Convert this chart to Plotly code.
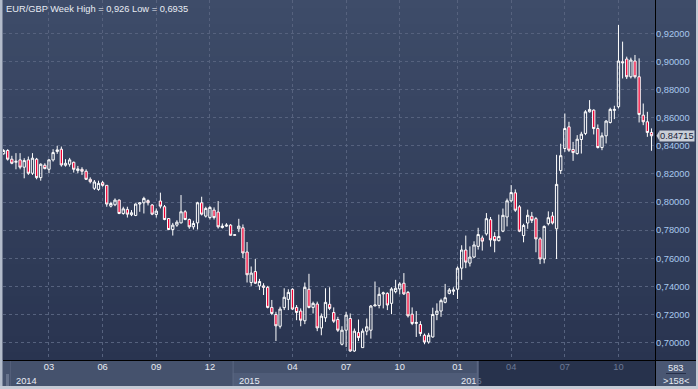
import plotly.graph_objects as go

# ---------------- data (weekly EUR/GBP bars) ----------------
opens = [0.8343, 0.8367, 0.8305, 0.8283, 0.8300, 0.8248, 0.8300, 0.8205, 0.8305, 0.8174,
         0.8262, 0.8233, 0.8300, 0.8360, 0.8376, 0.8262, 0.8269, 0.8283, 0.8224, 0.8233,
         0.8219, 0.8162, 0.8098, 0.8090, 0.8138, 0.8119, 0.7971, 0.7981, 0.8014, 0.7919,
         0.7948, 0.7910, 0.7905, 0.7986, 0.7995, 0.8010, 0.7979, 0.7912, 0.8007, 0.7967,
         0.7883, 0.7805, 0.7836, 0.7852, 0.7931, 0.7876, 0.7824, 0.7852, 0.7995, 0.7900,
         0.7890, 0.7943, 0.7929, 0.7819, 0.7829, 0.7836, 0.7764, 0.7810, 0.7817, 0.7645,
         0.7428, 0.7506, 0.7404, 0.7404, 0.7394, 0.7251, 0.7201, 0.7117, 0.7249, 0.7308,
         0.7380, 0.7251, 0.7225, 0.7156, 0.7380, 0.7251, 0.7275, 0.7105, 0.7177, 0.7273,
         0.7215, 0.7165, 0.6989, 0.7089, 0.7172, 0.6941, 0.7072, 0.6965, 0.7082, 0.7089,
         0.7261, 0.7265, 0.7347, 0.7351, 0.7280, 0.7363, 0.7382, 0.7423, 0.7358, 0.7203,
         0.7137, 0.7129, 0.7053, 0.7005, 0.7041, 0.7201, 0.7225, 0.7287, 0.7351, 0.7366,
         0.7380, 0.7530, 0.7659, 0.7566, 0.7609, 0.7685, 0.7745, 0.7774, 0.7875, 0.7755,
         0.7726, 0.7793, 0.7894, 0.8009, 0.8066, 0.7966, 0.7762, 0.7851, 0.7899, 0.7882,
         0.7738, 0.7595, 0.7846, 0.7901, 0.7810, 0.8224, 0.8381, 0.8535, 0.8374, 0.8345,
         0.8445, 0.8488, 0.8642, 0.8654, 0.8523, 0.8388, 0.8471, 0.8566, 0.8652, 0.8678,
         0.8998, 0.9017, 0.8891, 0.9003, 0.8891, 0.8618, 0.8571, 0.8495]
highs = [0.8376, 0.8376, 0.8329, 0.8348, 0.8348, 0.8312, 0.8324, 0.8348, 0.8314, 0.8276,
         0.8276, 0.8305, 0.8376, 0.8400, 0.8395, 0.8305, 0.8314, 0.8288, 0.8257, 0.8248,
         0.8233, 0.8176, 0.8157, 0.8152, 0.8150, 0.8121, 0.8002, 0.8026, 0.8019, 0.7967,
         0.7967, 0.7943, 0.7990, 0.8000, 0.8038, 0.8019, 0.7986, 0.7955, 0.8067, 0.7979,
         0.7886, 0.7852, 0.7871, 0.8050, 0.7943, 0.7883, 0.7867, 0.8002, 0.8038, 0.7967,
         0.7971, 0.7962, 0.8007, 0.7848, 0.7850, 0.7843, 0.7769, 0.7881, 0.7841, 0.7716,
         0.7542, 0.7595, 0.7454, 0.7423, 0.7404, 0.7304, 0.7220, 0.7256, 0.7387, 0.7380,
         0.7387, 0.7268, 0.7244, 0.7428, 0.7490, 0.7292, 0.7292, 0.7208, 0.7387, 0.7394,
         0.7251, 0.7184, 0.7117, 0.7220, 0.7208, 0.7101, 0.7165, 0.7101, 0.7172, 0.7268,
         0.7435, 0.7394, 0.7363, 0.7358, 0.7394, 0.7447, 0.7430, 0.7495, 0.7368, 0.7251,
         0.7225, 0.7153, 0.7065, 0.7070, 0.7249, 0.7280, 0.7313, 0.7418, 0.7389, 0.7394,
         0.7542, 0.7693, 0.7762, 0.7685, 0.7721, 0.7817, 0.7762, 0.7922, 0.7894, 0.7786,
         0.7911, 0.7954, 0.8025, 0.8121, 0.8090, 0.7978, 0.7846, 0.7946, 0.7930, 0.7894,
         0.7750, 0.7834, 0.7934, 0.7930, 0.8336, 0.8415, 0.8630, 0.8571, 0.8428, 0.8476,
         0.8500, 0.8654, 0.8725, 0.8659, 0.8552, 0.8495, 0.8583, 0.8671, 0.8685, 0.9259,
         0.9141, 0.9034, 0.9027, 0.9046, 0.9022, 0.8701, 0.8642, 0.8524]
lows = [0.8338, 0.8295, 0.8269, 0.8233, 0.8233, 0.8169, 0.8193, 0.8193, 0.8162, 0.8152,
        0.8233, 0.8205, 0.8288, 0.8343, 0.8252, 0.8252, 0.8252, 0.8210, 0.8205, 0.8193,
        0.8157, 0.8133, 0.8086, 0.8081, 0.8110, 0.7967, 0.7962, 0.7971, 0.7914, 0.7910,
        0.7890, 0.7900, 0.7900, 0.7931, 0.7919, 0.7976, 0.7907, 0.7890, 0.7955, 0.7871,
        0.7800, 0.7762, 0.7824, 0.7848, 0.7871, 0.7810, 0.7805, 0.7805, 0.7905, 0.7890,
        0.7876, 0.7876, 0.7812, 0.7812, 0.7824, 0.7762, 0.7762, 0.7786, 0.7602, 0.7428,
        0.7404, 0.7418, 0.7375, 0.7339, 0.7244, 0.7196, 0.7012, 0.7101, 0.7232, 0.7232,
        0.7232, 0.7160, 0.7117, 0.7132, 0.7244, 0.7208, 0.7082, 0.7053, 0.7148, 0.7232,
        0.7141, 0.7077, 0.6981, 0.6969, 0.6935, 0.6935, 0.7012, 0.6965, 0.7053, 0.7029,
        0.7261, 0.7244, 0.7244, 0.7232, 0.7203, 0.7351, 0.7344, 0.7339, 0.7179, 0.7125,
        0.7041, 0.7046, 0.6989, 0.6993, 0.7036, 0.7160, 0.7184, 0.7280, 0.7344, 0.7339,
        0.7311, 0.7447, 0.7530, 0.7542, 0.7602, 0.7662, 0.7655, 0.7762, 0.7683, 0.7643,
        0.7720, 0.7786, 0.7827, 0.7997, 0.7930, 0.7786, 0.7714, 0.7810, 0.7851, 0.7643,
        0.7559, 0.7564, 0.7834, 0.7841, 0.7595, 0.8200, 0.8357, 0.8357, 0.8293, 0.8338,
        0.8345, 0.8476, 0.8637, 0.8481, 0.8381, 0.8369, 0.8417, 0.8559, 0.8590, 0.8666,
        0.8879, 0.8875, 0.8879, 0.8879, 0.8566, 0.8547, 0.8464, 0.8365]
closes = [0.8367, 0.8305, 0.8276, 0.8290, 0.8248, 0.8295, 0.8205, 0.8312, 0.8174, 0.8269,
          0.8238, 0.8300, 0.8352, 0.8371, 0.8264, 0.8276, 0.8300, 0.8233, 0.8236, 0.8219,
          0.8162, 0.8145, 0.8143, 0.8133, 0.8119, 0.7986, 0.7990, 0.8014, 0.7919, 0.7952,
          0.7914, 0.7924, 0.7986, 0.7995, 0.8026, 0.7995, 0.7914, 0.7936, 0.7971, 0.7876,
          0.7805, 0.7836, 0.7857, 0.7931, 0.7876, 0.7824, 0.7848, 0.7995, 0.7914, 0.7955,
          0.7962, 0.7890, 0.7824, 0.7829, 0.7836, 0.7764, 0.7767, 0.7829, 0.7638, 0.7483,
          0.7495, 0.7423, 0.7435, 0.7394, 0.7251, 0.7208, 0.7120, 0.7239, 0.7323, 0.7358,
          0.7239, 0.7215, 0.7160, 0.7394, 0.7251, 0.7280, 0.7105, 0.7189, 0.7287, 0.7244,
          0.7153, 0.7089, 0.7089, 0.7196, 0.6941, 0.7082, 0.7036, 0.7082, 0.7113, 0.7261,
          0.7268, 0.7344, 0.7354, 0.7268, 0.7382, 0.7387, 0.7418, 0.7347, 0.7191, 0.7137,
          0.7144, 0.7065, 0.7005, 0.7053, 0.7201, 0.7225, 0.7299, 0.7320, 0.7375, 0.7375,
          0.7530, 0.7659, 0.7573, 0.7609, 0.7695, 0.7769, 0.7722, 0.7882, 0.7731, 0.7726,
          0.7755, 0.7906, 0.8009, 0.8068, 0.7942, 0.7793, 0.7834, 0.7906, 0.7870, 0.7738,
          0.7595, 0.7827, 0.7889, 0.7851, 0.8126, 0.8330, 0.8523, 0.8369, 0.8352, 0.8447,
          0.8483, 0.8642, 0.8659, 0.8523, 0.8388, 0.8471, 0.8576, 0.8659, 0.8659, 0.9003,
          0.8991, 0.8891, 0.9010, 0.8891, 0.8623, 0.8571, 0.8495, 0.84715]

month_tick_bars = [11, 24, 37, 50, 70, 83, 96, 110, 123, 136, 149]
month_tick_labels = ["03", "06", "09", "12", "04", "07", "10", "01", "04", "07", "10"]
year_labels = ["2014", "2015", "2016"]
year_start_bars = [-3.0, 55.5, 109.5]
price_ticks = [0.70, 0.72, 0.74, 0.76, 0.78, 0.80, 0.82, 0.84, 0.86, 0.88, 0.90, 0.92]
title_text = "EUR/GBP Week High = 0,926 Low = 0,6935"
bars_total_label = "583"
bars_visible_label = ">158<"
navigator_start_bar = 114.9

bars = list(range(len(opens)))

# ---------------- geometry / style ----------------
W, H = 698, 389
ML, MR, MT, MB = 3, 43, 0, 29
PW, PH = W - ML - MR, H - MT - MB
XR = [-0.14, 157.85]
YR = [0.6877, 0.9437]
FONT = "Liberation Sans, Arial, sans-serif"
TEXT = "#e8ecf4"
DIM = "#6c7994"


def xp(px):
    return (px - ML) / PW


def yp(py):
    return (MT + PH - py) / PH


def bar_px(b):
    return ML + (b - XR[0]) / (XR[1] - XR[0]) * PW


shapes = []
# background gradient
top_c, bot_c = (62, 76, 105), (41, 52, 80)
N = 45
for k in range(N):
    t = (k + 0.5) / N
    c = tuple(round(top_c[j] + (bot_c[j] - top_c[j]) * t) for j in range(3))
    y0 = k * PH / N
    y1 = (k + 1) * PH / N
    shapes.append(dict(type="rect", xref="paper", yref="paper", x0=xp(0), x1=xp(W),
                       y0=yp(y1 + 0.5), y1=yp(y0), fillcolor="rgb(%d,%d,%d)" % c,
                       line_width=0, layer="below"))

nav_px = bar_px(navigator_start_bar)
y15 = bar_px(year_start_bars[1])
y16 = bar_px(year_start_bars[2])


def rect(x0, x1, y0, y1, color, layer="below"):
    shapes.append(dict(type="rect", xref="paper", yref="paper", x0=xp(x0), x1=xp(x1),
                       y0=yp(y1), y1=yp(y0), fillcolor=color, line_width=0, layer=layer))


# bottom time panel
rect(0, W, 360, H, "#45526d")
rect(y15, nav_px, 373, 386, "#4f5c78")
rect(y15, y15 + 1, 361, 386, "#5c6883")
rect(nav_px, 655, 361, 386, "#27324c")
rect(nav_px - 1, nav_px + 1, 361, 386, "#5a6681")
rect(6, 9, 374, 386, "#67738c")
rect(10, 11, 361, 386, "#525e79")
# right info box
rect(656, 696, 361, 386, "#4a5773")
rect(666, 686, 373, 374, "#27304a")
# outer light frame
rect(0, 2.5, 0, H, "#b3bccb")
rect(0, W, 386, H, "#c4cad5")
rect(696, W, 0, H, "#c4cad5")
# black separator lines
rect(3, 696, 360, 361, "#000000")
rect(655, 656, 0, 386, "#000000")

# price marker arrow
ypx = (YR[1] - YR[0]) / PH
last = closes[-1]
shapes.append(dict(type="path", xref="paper", yref="y", layer="above",
                   path="M %f,%f L %f,%f L %f,%f Z" % (xp(656.5), last, xp(659.5), last + 5 * ypx,
                                                        xp(659.5), last - 5 * ypx),
                   fillcolor="#c9ced7", line_width=0))

tick_text = []
for b, lab in zip(month_tick_bars, month_tick_labels):
    if bar_px(b) > nav_px:
        tick_text.append('<span style="color:%s">%s</span>' % (DIM, lab))
    else:
        tick_text.append(lab)

fig = go.Figure(go.Candlestick(
    x=bars, open=opens, high=highs, low=lows, close=closes,
    increasing=dict(line=dict(color="#ffffff", width=1), fillcolor="rgba(0,0,0,0)"),
    decreasing=dict(line=dict(color="#ffffff", width=1), fillcolor="#ee0033"),
    whiskerwidth=0, hoverinfo="skip", showlegend=False,
))

annotations = [
    dict(text=title_text, xref="paper", yref="paper", x=xp(4), y=yp(2.5), xanchor="left",
         yanchor="top", showarrow=False, font=dict(family=FONT, size=9.3, color=TEXT)),
    dict(text=bars_total_label, xref="paper", yref="paper", x=xp(676), y=yp(367.5),
         xanchor="center", yanchor="middle", showarrow=False,
         font=dict(family=FONT, size=9.3, color=TEXT)),
    dict(text=bars_visible_label, xref="paper", yref="paper", x=xp(676), y=yp(380.5),
         xanchor="center", yanchor="middle", showarrow=False,
         font=dict(family=FONT, size=9.3, color=TEXT)),
    dict(text="%.5f" % last, xref="paper", yref="y", x=xp(659.5), y=last, xanchor="left",
         yanchor="middle", showarrow=False, bgcolor="#c9ced7", borderpad=0,
         font=dict(family=FONT, size=9.3, color="#1b2439")),
]
for lab, b in zip(year_labels, year_start_bars):
    px = max(bar_px(b), 10) + 4
    txt = lab
    if px + 20 > nav_px:
        cut = max(0, min(4, int((nav_px - px) / 5.2)))
        txt = lab[:cut] + '<span style="color:%s">%s</span>' % (DIM, lab[cut:])
    annotations.append(dict(text=txt, xref="paper", yref="paper", x=xp(px), y=yp(380.5),
                            xanchor="left", yanchor="middle", showarrow=False,
                            font=dict(family=FONT, size=9.3, color=TEXT)))

grid = "#56627e"
fig.update_layout(
    width=W, height=H, margin=dict(l=ML, r=MR, t=MT, b=MB),
    paper_bgcolor="#344260", plot_bgcolor="rgba(0,0,0,0)",
    separators=",.", shapes=shapes, annotations=annotations,
    font=dict(family=FONT, size=9.3, color=TEXT),
    boxgap=0.2,
    xaxis=dict(range=XR, tickvals=month_tick_bars, ticktext=tick_text, showgrid=True,
               gridcolor=grid, griddash="3px,3px", gridwidth=1, zeroline=False,
               showline=False, ticks="", rangeslider=dict(visible=False),
               tickfont=dict(family=FONT, size=9.3, color=TEXT), fixedrange=True),
    yaxis=dict(range=YR, side="right", tickvals=price_ticks, tickformat=".5f",
               showgrid=True, gridcolor=grid, griddash="3px,3px", gridwidth=1,
               zeroline=False, showline=False, ticks="",
               tickfont=dict(family=FONT, size=9.3, color="#a9c8ee"), fixedrange=True),
)

fig.write_html("out.html", config=dict(displayModeBar=False),
               post_script="document.body.style.margin='0';document.body.style.overflow='hidden';")
